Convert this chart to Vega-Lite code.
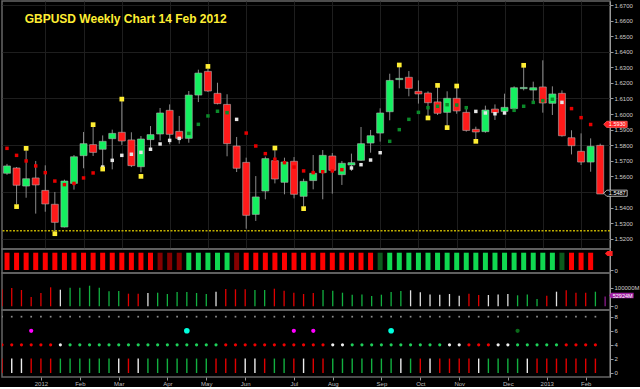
{
"$schema": "https://vega.github.io/schema/vega-lite/v6.json",
"background": "#000000",
"padding": 0,
"spacing": 0,
"bounds": "flush",
"config": {
  "view": {"stroke": "#666666", "strokeWidth": 1.5},
  "font": "Liberation Sans",
  "axis": {"labelColor": "#cccccc", "labelFont": "Liberation Sans", "labelFontSize": 6, "tickColor": "#999999", "tickSize": 3, "domainColor": "#999999", "labelPadding": 1, "labelOverlap": false, "labelBound": false, "labelFlush": false}
},
"datasets": {
"w": [
{"i":0,"o":1.5620,"h":1.5680,"l":1.5610,"c":1.5667,"sar":1.5780,"ss":"s","st":"R","v":91400,"vs":"r","d4":"r","b2":"r"},
{"i":1,"o":1.5654,"h":1.5660,"l":1.5421,"c":1.5543,"sar":1.5735,"ss":"s","fr":1.5406,"st":"R","v":98400,"vs":"r","d4":"r","b2":"w"},
{"i":2,"o":1.5538,"h":1.5767,"l":1.5463,"c":1.5585,"sar":1.5699,"ss":"s","fr":1.5780,"st":"R","v":87600,"vs":"r","d4":"r","b2":"w"},
{"i":3,"o":1.5590,"h":1.5699,"l":1.5361,"c":1.5545,"sar":1.5667,"ss":"s","st":"R","v":50000,"vs":"r","d4":"r","b2":"r","sig":"m"},
{"i":4,"o":1.5510,"h":1.5671,"l":1.5373,"c":1.5423,"sar":1.5624,"ss":"s","st":"R","v":71500,"vs":"r","d4":"r","b2":"r"},
{"i":5,"o":1.5421,"h":1.5500,"l":1.5243,"c":1.5305,"sar":1.5570,"ss":"s","fr":1.5232,"st":"R","v":102000,"vs":"r","d4":"r","b2":"r"},
{"i":6,"o":1.5275,"h":1.5579,"l":1.5272,"c":1.5570,"sar":1.5547,"ss":"s","st":"R","v":89200,"vs":"w","d4":"w","b2":"g"},
{"i":7,"o":1.5555,"h":1.5737,"l":1.5515,"c":1.5726,"sar":1.5555,"ss":"s","st":"R","v":100000,"vs":"g","d4":"g","b2":"g"},
{"i":8,"o":1.5733,"h":1.5885,"l":1.5652,"c":1.5810,"sar":1.5590,"ss":"s","st":"R","v":100000,"vs":"g","d4":"g","b2":"g"},
{"i":9,"o":1.5804,"h":1.5923,"l":1.5731,"c":1.5754,"sar":1.5622,"ss":"s","fr":1.5932,"st":"R","v":110700,"vs":"g","d4":"g","b2":"g"},
{"i":10,"o":1.5774,"h":1.5863,"l":1.5660,"c":1.5825,"sar":1.5660,"ss":"n","fr":1.5647,"st":"R","v":100000,"vs":"g","d4":"g","b2":"g"},
{"i":11,"o":1.5842,"h":1.5900,"l":1.5645,"c":1.5876,"sar":1.5703,"ss":"n","st":"R","v":80600,"vs":"g","d4":"g","b2":"g"},
{"i":12,"o":1.5883,"h":1.6085,"l":1.5802,"c":1.5827,"sar":1.5735,"ss":"n","fr":1.6096,"st":"R","v":82300,"vs":"g","d4":"g","b2":"w"},
{"i":13,"o":1.5834,"h":1.5883,"l":1.5660,"c":1.5669,"sar":1.5742,"ss":"n","st":"R","v":67700,"vs":"r","d4":"g","b2":"r"},
{"i":14,"o":1.5662,"h":1.5859,"l":1.5626,"c":1.5840,"sar":1.5754,"ss":"n","fr":1.5600,"st":"R","v":67700,"vs":"r","d4":"g","b2":"w"},
{"i":15,"o":1.5836,"h":1.5923,"l":1.5774,"c":1.5868,"sar":1.5774,"ss":"n","st":"R","v":71500,"vs":"w","d4":"g","b2":"g"},
{"i":16,"o":1.5872,"h":1.6039,"l":1.5830,"c":1.6007,"sar":1.5808,"ss":"n","st":"r","v":73100,"vs":"g","d4":"g","b2":"g"},
{"i":17,"o":1.6024,"h":1.6062,"l":1.5806,"c":1.5870,"sar":1.5831,"ss":"n","st":"r","v":66100,"vs":"g","d4":"g","b2":"g"},
{"i":18,"o":1.5889,"h":1.5988,"l":1.5810,"c":1.5844,"sar":1.5844,"ss":"n","st":"r","v":76900,"vs":"g","d4":"g","b2":"g"},
{"i":19,"o":1.5844,"h":1.6148,"l":1.5816,"c":1.6122,"sar":1.5876,"ss":"b","st":"G","v":76900,"vs":"g","d4":"g","b2":"g","sig":"c"},
{"i":20,"o":1.6122,"h":1.6285,"l":1.6077,"c":1.6263,"sar":1.5934,"ss":"b","st":"G","v":71500,"vs":"g","d4":"g","b2":"g"},
{"i":21,"o":1.6274,"h":1.6291,"l":1.6142,"c":1.6148,"sar":1.5988,"ss":"b","fr":1.6306,"st":"G","v":66100,"vs":"g","d4":"g","b2":"g"},
{"i":22,"o":1.6133,"h":1.6201,"l":1.6062,"c":1.6067,"sar":1.6018,"ss":"b","st":"G","v":78500,"vs":"w","d4":"g","b2":"r"},
{"i":23,"o":1.6062,"h":1.6127,"l":1.5729,"c":1.5810,"sar":1.6009,"ss":"b","st":"G","v":93000,"vs":"r","d4":"r","b2":"r"},
{"i":24,"o":1.5795,"h":1.5853,"l":1.5628,"c":1.5652,"sar":1.5966,"ss":"n","st":"r","v":91400,"vs":"r","d4":"r","b2":"r"},
{"i":25,"o":1.5690,"h":1.5720,"l":1.5264,"c":1.5350,"sar":1.5878,"ss":"s","st":"R","v":91400,"vs":"r","d4":"r","b2":"w"},
{"i":26,"o":1.5356,"h":1.5602,"l":1.5314,"c":1.5468,"sar":1.5795,"ss":"s","st":"R","v":87600,"vs":"g","d4":"r","b2":"w"},
{"i":27,"o":1.5506,"h":1.5727,"l":1.5453,"c":1.5714,"sar":1.5746,"ss":"s","st":"R","v":87600,"vs":"g","d4":"r","b2":"r"},
{"i":28,"o":1.5701,"h":1.5769,"l":1.5555,"c":1.5583,"sar":1.5710,"ss":"s","fr":1.5782,"st":"R","v":94600,"vs":"r","d4":"r","b2":"g"},
{"i":29,"o":1.5562,"h":1.5720,"l":1.5485,"c":1.5692,"sar":1.5688,"ss":"s","st":"R","v":83900,"vs":"r","d4":"r","b2":"g"},
{"i":30,"o":1.5697,"h":1.5724,"l":1.5459,"c":1.5485,"sar":1.5660,"ss":"s","st":"R","v":73100,"vs":"r","d4":"r","b2":"r","sig":"m"},
{"i":31,"o":1.5472,"h":1.5585,"l":1.5399,"c":1.5568,"sar":1.5635,"ss":"s","fr":1.5393,"st":"R","v":66100,"vs":"r","d4":"r","b2":"w"},
{"i":32,"o":1.5573,"h":1.5737,"l":1.5517,"c":1.5620,"sar":1.5624,"ss":"s","st":"R","v":71500,"vs":"r","d4":"r","b2":"r","sig":"m"},
{"i":33,"o":1.5624,"h":1.5769,"l":1.5453,"c":1.5735,"sar":1.5630,"ss":"s","st":"R","v":87600,"vs":"g","d4":"r","b2":"r"},
{"i":34,"o":1.5731,"h":1.5750,"l":1.5489,"c":1.5639,"sar":1.5635,"ss":"s","st":"R","v":83900,"vs":"g","d4":"w","b2":"g"},
{"i":35,"o":1.5611,"h":1.5699,"l":1.5545,"c":1.5684,"sar":1.5643,"ss":"s","st":"R","v":73100,"vs":"g","d4":"w","b2":"g"},
{"i":36,"o":1.5673,"h":1.5746,"l":1.5635,"c":1.5688,"sar":1.5654,"ss":"n","st":"R","v":62400,"vs":"g","d4":"g","b2":"g"},
{"i":37,"o":1.5703,"h":1.5917,"l":1.5699,"c":1.5810,"sar":1.5675,"ss":"n","st":"R","v":64000,"vs":"g","d4":"g","b2":"g"},
{"i":38,"o":1.5814,"h":1.5898,"l":1.5752,"c":1.5861,"sar":1.5705,"ss":"n","st":"R","v":55400,"vs":"g","d4":"g","b2":"g"},
{"i":39,"o":1.5878,"h":1.6037,"l":1.5823,"c":1.6007,"sar":1.5752,"ss":"n","st":"g","v":62400,"vs":"g","d4":"g","b2":"g"},
{"i":40,"o":1.6015,"h":1.6259,"l":1.5960,"c":1.6216,"sar":1.5825,"ss":"b","st":"G","v":76900,"vs":"g","d4":"g","b2":"g","sig":"c"},
{"i":41,"o":1.6221,"h":1.6306,"l":1.6165,"c":1.6229,"sar":1.5900,"ss":"b","fr":1.6315,"st":"G","v":82300,"vs":"g","d4":"g","b2":"w"},
{"i":42,"o":1.6236,"h":1.6276,"l":1.6114,"c":1.6165,"sar":1.5966,"ss":"b","st":"G","v":86000,"vs":"w","d4":"g","b2":"g"},
{"i":43,"o":1.6146,"h":1.6216,"l":1.6067,"c":1.6129,"sar":1.6011,"ss":"b","st":"G","v":75300,"vs":"w","d4":"g","b2":"r"},
{"i":44,"o":1.6135,"h":1.6146,"l":1.5981,"c":1.6073,"sar":1.6041,"ss":"b","fr":1.5975,"st":"G","v":64000,"vs":"w","d4":"g","b2":"w"},
{"i":45,"o":1.6078,"h":1.6180,"l":1.5994,"c":1.6005,"sar":1.6050,"ss":"b","fr":1.6184,"st":"G","v":62400,"vs":"w","d4":"g","b2":"r"},
{"i":46,"o":1.6011,"h":1.6146,"l":1.5917,"c":1.6101,"sar":1.6060,"ss":"b","fr":1.5913,"st":"G","v":66100,"vs":"w","d4":"w","b2":"r"},
{"i":47,"o":1.6101,"h":1.6170,"l":1.6002,"c":1.6020,"sar":1.6058,"ss":"b","fr":1.6180,"st":"G","v":57000,"vs":"w","d4":"w","b2":"r"},
{"i":48,"o":1.6011,"h":1.6037,"l":1.5887,"c":1.5895,"sar":1.6041,"ss":"b","st":"G","v":67700,"vs":"r","d4":"r","b2":"r"},
{"i":49,"o":1.5902,"h":1.5919,"l":1.5838,"c":1.5885,"sar":1.6017,"ss":"n","fr":1.5825,"st":"G","v":60800,"vs":"r","d4":"r","b2":"w"},
{"i":50,"o":1.5887,"h":1.6054,"l":1.5880,"c":1.6026,"sar":1.6007,"ss":"n","st":"G","v":60800,"vs":"w","d4":"r","b2":"g"},
{"i":51,"o":1.6032,"h":1.6062,"l":1.5962,"c":1.6009,"sar":1.6002,"ss":"n","st":"G","v":64000,"vs":"w","d4":"w","b2":"g"},
{"i":52,"o":1.6017,"h":1.6131,"l":1.6002,"c":1.6043,"sar":1.6007,"ss":"n","st":"G","v":66100,"vs":"w","d4":"w","b2":"g"},
{"i":53,"o":1.6035,"h":1.6178,"l":1.6028,"c":1.6169,"sar":1.6024,"ss":"b","st":"G","v":59100,"vs":"g","d4":"g","b2":"g","sig":"d"},
{"i":54,"o":1.6163,"h":1.6302,"l":1.6152,"c":1.6171,"sar":1.6050,"ss":"b","fr":1.6313,"st":"G","v":64000,"vs":"g","d4":"g","b2":"w"},
{"i":55,"o":1.6154,"h":1.6208,"l":1.6084,"c":1.6169,"sar":1.6075,"ss":"b","st":"G","v":39000,"vs":"g","d4":"g","b2":"r"},
{"i":56,"o":1.6174,"h":1.6345,"l":1.6009,"c":1.6071,"sar":1.6086,"ss":"b","st":"G","v":57000,"vs":"r","d4":"g","b2":"r"},
{"i":57,"o":1.6069,"h":1.6178,"l":1.5994,"c":1.6129,"sar":1.6095,"ss":"b","st":"G","v":78500,"vs":"w","d4":"g","b2":"r"},
{"i":58,"o":1.6133,"h":1.6152,"l":1.5855,"c":1.5861,"sar":1.6075,"ss":"n","st":"g","v":86000,"vs":"r","d4":"r","b2":"r"},
{"i":59,"o":1.5848,"h":1.5896,"l":1.5741,"c":1.5797,"sar":1.6035,"ss":"s","st":"R","v":73100,"vs":"r","d4":"r","b2":"r"},
{"i":60,"o":1.5761,"h":1.5876,"l":1.5673,"c":1.5692,"sar":1.5977,"ss":"s","st":"R","v":73100,"vs":"r","d4":"r","b2":"r"},
{"i":61,"o":1.5692,"h":1.5844,"l":1.5630,"c":1.5793,"sar":1.5933,"ss":"s","st":"R","v":78500,"vs":"g","d4":"r","b2":"r"},
{"i":62,"o":1.5799,"h":1.5810,"l":1.5487,"c":1.5487,"v":52924,"vs":"p"}
]
},
"vconcat": [
{
  "width": 608, "height": 248,
  "data": {"name": "w"},
  "layer": [
    {
      "mark": {"type": "rule", "color": "#8a8a8a", "strokeWidth": 1, "clip": true},
      "encoding": {
        "x": {"field": "i", "type": "quantitative", "title": null, "scale": {"domain": [0, 62.5], "nice": false, "zero": false},
              "axis": {"values": [4,8,12,17,21,25,30,34,39,43,47,52,56,60], "grid": true, "gridColor": "#1e1e1e", "labels": false, "ticks": false, "domain": false}},
        "y": {"field": "l", "type": "quantitative", "title": null, "scale": {"domain": [1.51339, 1.67257], "nice": false, "zero": false},
              "axis": {"orient": "right", "values": [1.52,1.53,1.54,1.55,1.56,1.57,1.58,1.59,1.6,1.61,1.62,1.63,1.64,1.65,1.66,1.67], "format": ".4f", "labelOverlap": false, "labelExpr": "abs(datum.value - 1.55) < 0.001 ? '' : datum.label",
                       "grid": true, "gridColor": "#1e1e1e", "gridOpacity": {"condition": {"test": "round(datum.value*100) % 3 == 2", "value": 1}, "value": 0}}},
        "y2": {"field": "h"}
      }
    },
    {
      "mark": {"type": "bar", "size": 7, "stroke": "#b0b0b0", "strokeWidth": 0.6, "clip": true},
      "encoding": {
        "x": {"field": "i", "type": "quantitative", "title": null},
        "y": {"field": "o", "type": "quantitative", "title": null,
              "axis": {"orient": "right", "values": [1.52,1.53,1.54,1.55,1.56,1.57,1.58,1.59,1.6,1.61,1.62,1.63,1.64,1.65,1.66,1.67], "format": ".4f", "labelOverlap": false, "labelExpr": "abs(datum.value - 1.55) < 0.001 ? '' : datum.label",
                       "grid": true, "gridColor": "#1e1e1e", "gridOpacity": {"condition": {"test": "round(datum.value*100) % 3 == 2", "value": 1}, "value": 0}}},
        "y2": {"field": "c"},
        "color": {"condition": {"test": "datum.c >= datum.o", "value": "#14f060"}, "value": "#ff1a1a"}
      }
    },
    {
      "transform": [{"filter": "isValid(datum.sar)"}],
      "mark": {"type": "point", "shape": "square", "filled": true, "size": 12, "opacity": 1, "clip": true},
      "encoding": {
        "x": {"field": "i", "type": "quantitative", "title": null},
        "y": {"field": "sar", "type": "quantitative", "title": null,
              "axis": {"orient": "right", "values": [1.52,1.53,1.54,1.55,1.56,1.57,1.58,1.59,1.6,1.61,1.62,1.63,1.64,1.65,1.66,1.67], "format": ".4f", "labelOverlap": false, "labelExpr": "abs(datum.value - 1.55) < 0.001 ? '' : datum.label",
                       "grid": true, "gridColor": "#1e1e1e", "gridOpacity": {"condition": {"test": "round(datum.value*100) % 3 == 2", "value": 1}, "value": 0}}},
        "color": {"condition": [{"test": "datum.ss == 's'", "value": "#e80000"}, {"test": "datum.ss == 'n'", "value": "#e6e6e6"}], "value": "#0b8a2a"}
      }
    },
    {
      "transform": [{"filter": "isValid(datum.fr)"}],
      "mark": {"type": "point", "shape": "square", "filled": true, "size": 22, "opacity": 1, "color": "#ffee33", "clip": true},
      "encoding": {
        "x": {"field": "i", "type": "quantitative", "title": null},
        "y": {"field": "fr", "type": "quantitative", "title": null,
              "axis": {"orient": "right", "values": [1.52,1.53,1.54,1.55,1.56,1.57,1.58,1.59,1.6,1.61,1.62,1.63,1.64,1.65,1.66,1.67], "format": ".4f", "labelOverlap": false, "labelExpr": "abs(datum.value - 1.55) < 0.001 ? '' : datum.label",
                       "grid": true, "gridColor": "#1e1e1e", "gridOpacity": {"condition": {"test": "round(datum.value*100) % 3 == 2", "value": 1}, "value": 0}}}
      }
    },
    {
      "data": {"values": [{"lv": 1.5251}]},
      "mark": {"type": "rule", "color": "#bfae00", "strokeWidth": 1.5, "strokeDash": [2, 1.5]},
      "encoding": {
        "y": {"field": "lv", "type": "quantitative", "title": null,
              "axis": {"orient": "right", "values": [1.52,1.53,1.54,1.55,1.56,1.57,1.58,1.59,1.6,1.61,1.62,1.63,1.64,1.65,1.66,1.67], "format": ".4f", "labelOverlap": false, "labelExpr": "abs(datum.value - 1.55) < 0.001 ? '' : datum.label",
                       "grid": true, "gridColor": "#1e1e1e", "gridOpacity": {"condition": {"test": "round(datum.value*100) % 3 == 2", "value": 1}, "value": 0}}}
      }
    },
    {
      "data": {"values": [{"t": "GBPUSD Weekly Chart 14 Feb 2012", "tx": 1.85, "ty": 1.65845}]},
      "mark": {"type": "text", "font": "Liberation Sans", "fontSize": 12, "fontWeight": "bold", "color": "#ffee33", "align": "left", "baseline": "alphabetic"},
      "encoding": {
        "x": {"field": "tx", "type": "quantitative", "title": null},
        "y": {"field": "ty", "type": "quantitative", "title": null,
              "axis": {"orient": "right", "values": [1.52,1.53,1.54,1.55,1.56,1.57,1.58,1.59,1.6,1.61,1.62,1.63,1.64,1.65,1.66,1.67], "format": ".4f", "labelOverlap": false, "labelExpr": "abs(datum.value - 1.55) < 0.001 ? '' : datum.label",
                       "grid": true, "gridColor": "#1e1e1e", "gridOpacity": {"condition": {"test": "round(datum.value*100) % 3 == 2", "value": 1}, "value": 0}}},
        "text": {"field": "t"}
      }
    },
    {
      "data": {"values": [{"lbl": "1.5930", "p": 1.5934, "kind": "sar", "bx": 63.75}, {"lbl": "1.5487", "p": 1.5492, "kind": "last", "bx": 63.75}]},
      "mark": {"type": "point", "shape": "M-1.3,0L-1,-0.3L1,-0.3L1,0.3L-1,0.3Z", "size": 416, "filled": true, "opacity": 1, "strokeWidth": 0.8},
      "encoding": {
        "x": {"field": "bx", "type": "quantitative", "title": null},
        "y": {"field": "p", "type": "quantitative", "title": null,
              "axis": {"orient": "right", "values": [1.52,1.53,1.54,1.55,1.56,1.57,1.58,1.59,1.6,1.61,1.62,1.63,1.64,1.65,1.66,1.67], "format": ".4f", "labelOverlap": false, "labelExpr": "abs(datum.value - 1.55) < 0.001 ? '' : datum.label",
                       "grid": true, "gridColor": "#1e1e1e", "gridOpacity": {"condition": {"test": "round(datum.value*100) % 3 == 2", "value": 1}, "value": 0}}},
        "fill": {"condition": {"test": "datum.kind == 'sar'", "value": "#ff2020"}, "value": "#000000"},
        "stroke": {"condition": {"test": "datum.kind == 'sar'", "value": "#ff6060"}, "value": "#dddddd"}
      }
    },
    {
      "data": {"values": [{"lbl": "1.5930", "p": 1.5934, "bx": 63.78}, {"lbl": "1.5487", "p": 1.5492, "bx": 63.78}]},
      "mark": {"type": "text", "font": "Liberation Sans", "fontSize": 5.5, "color": "#ffffff", "align": "center", "baseline": "middle"},
      "encoding": {
        "x": {"field": "bx", "type": "quantitative", "title": null},
        "y": {"field": "p", "type": "quantitative", "title": null,
              "axis": {"orient": "right", "values": [1.52,1.53,1.54,1.55,1.56,1.57,1.58,1.59,1.6,1.61,1.62,1.63,1.64,1.65,1.66,1.67], "format": ".4f", "labelOverlap": false, "labelExpr": "abs(datum.value - 1.55) < 0.001 ? '' : datum.label",
                       "grid": true, "gridColor": "#1e1e1e", "gridOpacity": {"condition": {"test": "round(datum.value*100) % 3 == 2", "value": 1}, "value": 0}}},
        "text": {"field": "lbl"}
      }
    }
  ]
},
{
  "width": 608, "height": 24,
  "layer": [
    {
      "data": {"name": "w"},
      "transform": [{"filter": "datum.st"}],
      "mark": {"type": "bar", "size": 5, "clip": true},
      "encoding": {
        "x": {"field": "i", "type": "quantitative", "title": null, "scale": {"domain": [0, 62.5], "nice": false, "zero": false}, "axis": null},
        "y": {"datum": 1, "type": "quantitative", "title": null, "scale": {"domain": [-0.173, 1.214], "nice": false, "zero": false},
              "axis": {"orient": "right", "values": [0], "format": "d", "grid": false}},
        "y2": {"datum": 0},
        "color": {"condition": [{"test": "datum.st == 'R'", "value": "#ff0000"}, {"test": "datum.st == 'r'", "value": "#850000"}, {"test": "datum.st == 'G'", "value": "#10d850"}], "value": "#0b5a1c"}
      }
    },
    {
      "data": {"values": [{"m": 0.954, "mx": 62.96}]},
      "mark": {"type": "point", "shape": "M-1.4,0L-0.6,-0.8L1,-0.8L1,0.8L-0.6,0.8Z", "size": 41, "filled": true, "opacity": 1, "color": "#ff2020"},
      "encoding": {
        "x": {"field": "mx", "type": "quantitative", "title": null, "axis": null},
        "y": {"field": "m", "type": "quantitative", "title": null, "axis": {"orient": "right", "values": [0], "format": "d", "grid": false}}
      }
    }
  ]
},
{
  "width": 608, "height": 37,
  "layer": [
    {
      "data": {"name": "w"},
      "mark": {"type": "rule", "strokeWidth": 1.3, "clip": true},
      "encoding": {
        "x": {"field": "i", "type": "quantitative", "title": null, "scale": {"domain": [0, 62.5], "nice": false, "zero": false}, "axis": null},
        "y": {"field": "v", "type": "quantitative", "title": null, "scale": {"domain": [-19900, 179000], "nice": false, "zero": false},
              "axis": {"orient": "right", "values": [0, 100000], "grid": false, "labelExpr": "datum.value == 0 ? '0' : '100000M'"}},
        "y2": {"datum": 0},
        "color": {"condition": [{"test": "datum.vs == 'r'", "value": "#e00000"}, {"test": "datum.vs == 'w'", "value": "#e0e0e0"}, {"test": "datum.vs == 'g'", "value": "#12b040"}], "value": "#8a1a8a"}
      }
    },
    {
      "data": {"values": [{"lbl": "52924M", "p": 58000, "bx": 63.78}]},
      "mark": {"type": "point", "shape": "M-1.2,0L-1,-0.255L1,-0.255L1,0.255L-1,0.255Z", "size": 502, "filled": true, "opacity": 1, "color": "#a020a0"},
      "encoding": {
        "x": {"field": "bx", "type": "quantitative", "title": null, "axis": null},
        "y": {"field": "p", "type": "quantitative", "title": null, "axis": {"orient": "right", "values": [0, 100000], "grid": false, "labelExpr": "datum.value == 0 ? '0' : '100000M'"}}
      }
    },
    {
      "data": {"values": [{"lbl": "52924M", "p": 58000, "bx": 63.8}]},
      "mark": {"type": "text", "font": "Liberation Sans", "fontSize": 5.5, "color": "#ffffff", "align": "center", "baseline": "middle"},
      "encoding": {
        "x": {"field": "bx", "type": "quantitative", "title": null, "axis": null},
        "y": {"field": "p", "type": "quantitative", "title": null, "axis": {"orient": "right", "values": [0, 100000], "grid": false, "labelExpr": "datum.value == 0 ? '0' : '100000M'"}},
        "text": {"field": "lbl"}
      }
    }
  ]
},
{
  "width": 608, "height": 67,
  "data": {"name": "w"},
  "layer": [
    {
      "transform": [{"filter": "datum.d4"}],
      "mark": {"type": "point", "shape": "square", "filled": true, "size": 3, "opacity": 1, "color": "#8a8a8a", "clip": true},
      "encoding": {
        "x": {"field": "i", "type": "quantitative", "title": null, "scale": {"domain": [0, 62.5], "nice": false, "zero": false},
              "axis": {"orient": "bottom", "values": [4,8,12,17,21,25,30,34,39,43,47,52,56,60], "domain": false, "grid": false, "labelColor": "#bbbbbb", "labelPadding": 0,
                       "labelExpr": "['2012','Feb','Mar','Apr','May','Jun','Jul','Aug','Sep','Oct','Nov','Dec','2013','Feb'][indexof([4,8,12,17,21,25,30,34,39,43,47,52,56,60], datum.value)]"}},
        "y": {"datum": 8, "type": "quantitative", "title": null, "scale": {"domain": [-0.57, 8.95], "nice": false, "zero": false},
              "axis": {"orient": "right", "values": [0, 2, 4, 6, 8], "format": "d", "grid": false}}
      }
    },
    {
      "transform": [{"filter": "datum.sig"}],
      "mark": {"type": "point", "shape": "circle", "filled": true, "opacity": 1, "clip": true},
      "encoding": {
        "x": {"field": "i", "type": "quantitative", "title": null},
        "y": {"datum": 6, "type": "quantitative", "axis": {"orient": "right", "values": [0, 2, 4, 6, 8], "format": "d", "grid": false}},
        "color": {"condition": [{"test": "datum.sig == 'm'", "value": "#ff00ff"}, {"test": "datum.sig == 'c'", "value": "#00ffdd"}], "value": "#0a6a1a"},
        "size": {"condition": {"test": "datum.sig == 'c'", "value": 32}, "value": 18}
      }
    },
    {
      "transform": [{"filter": "datum.d4"}],
      "mark": {"type": "point", "shape": "circle", "filled": true, "size": 10, "opacity": 1, "clip": true},
      "encoding": {
        "x": {"field": "i", "type": "quantitative", "title": null},
        "y": {"datum": 4, "type": "quantitative", "axis": {"orient": "right", "values": [0, 2, 4, 6, 8], "format": "d", "grid": false}},
        "color": {"condition": [{"test": "datum.d4 == 'r'", "value": "#f00000"}, {"test": "datum.d4 == 'w'", "value": "#f0f0f0"}], "value": "#1ed05a"}
      }
    },
    {
      "transform": [{"filter": "datum.b2"}],
      "mark": {"type": "rule", "strokeWidth": 1.4, "clip": true},
      "encoding": {
        "x": {"field": "i", "type": "quantitative", "title": null},
        "y": {"datum": 0, "type": "quantitative", "axis": {"orient": "right", "values": [0, 2, 4, 6, 8], "format": "d", "grid": false}},
        "y2": {"datum": 2.05},
        "color": {"condition": [{"test": "datum.b2 == 'r'", "value": "#e00000"}, {"test": "datum.b2 == 'w'", "value": "#eeeeee"}], "value": "#12b040"}
      }
    }
  ]
}
]
}
